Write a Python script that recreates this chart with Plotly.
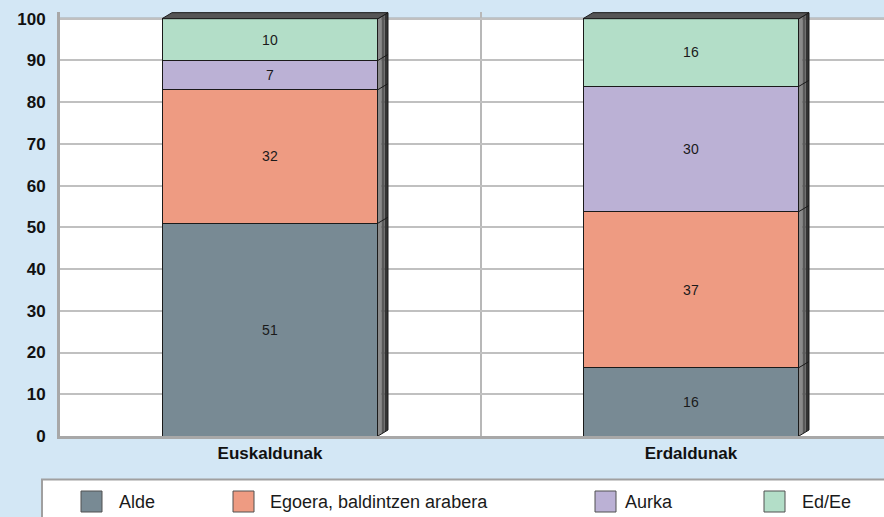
import plotly.graph_objects as go

# data
categories = ['Euskaldunak', 'Erdaldunak']
series_names = ['Alde', 'Egoera, baldintzen arabera', 'Aurka', 'Ed/Ee']
alde = [51, 16.4]
egoera = [32, 37.4]
aurka = [7, 30.0]
ed_ee = [10, 16.2]
colors = ['#788a94', '#ee9b82', '#bbb1d5', '#b3dec8']
y_ticks = [0, 10, 20, 30, 40, 50, 60, 70, 80, 90, 100]

series_values = [alde, egoera, aurka, ed_ee]
x_pos = list(range(len(categories)))

BG = '#d3e7f5'
FONT = 'Arial, Liberation Sans, sans-serif'

# plot area in pixels
L, T, W, H = 60, 12, 824, 424
BAR_W = 0.513
DX = 0.02375   # depth of the 3d effect, x units
DY = 1.44      # depth of the 3d effect, y units
Y_MAX = 101.6


def paper_x(px):
    return (px - L) / W


def paper_y(py):
    return (T + H - py) / H


fig = go.Figure()

for name, vals, col in zip(series_names, series_values, colors):
    fig.add_trace(go.Bar(
        x=x_pos, y=vals, name=name, width=BAR_W,
        marker=dict(color=col, line=dict(color='#1a1a1a', width=1)),
        texttemplate='%{y:.0f}', textposition='inside',
        insidetextanchor='middle', textangle=0,
        textfont=dict(family=FONT, size=14, color='#1a1a1a'),
        showlegend=False, hoverinfo='skip',
    ))

# 3d side and top faces, derived from the stacked totals
strip_cols = ['#8a8a8a', '#595959', '#333333']
for i, c in enumerate(x_pos):
    totals = []
    acc = 0
    for vals in series_values:
        acc += vals[i]
        totals.append(acc)
    top = totals[-1]
    xl = c - BAR_W / 2
    xr = c + BAR_W / 2
    n = len(strip_cols)
    for k, sc in enumerate(strip_cols):
        xa = xr + DX * k / n
        xb = xr + DX * (k + 1) / n
        ya = DY * k / n
        yb = DY * (k + 1) / n
        fig.add_trace(go.Scatter(
            x=[xa, xb, xb, xa, xa], y=[ya, yb, top + yb, top + ya, ya],
            mode='lines', fill='toself', fillcolor=sc,
            line=dict(width=0), showlegend=False, hoverinfo='skip'))
    # outline of the side face and the segment edges
    fig.add_trace(go.Scatter(
        x=[xr, xr + DX, xr + DX, xr], y=[0, DY, top + DY, top],
        mode='lines', line=dict(color='#1a1a1a', width=1),
        showlegend=False, hoverinfo='skip'))
    for t in totals[:-1]:
        fig.add_trace(go.Scatter(
            x=[xr, xr + DX], y=[t, t + DY], mode='lines',
            line=dict(color='#1a1a1a', width=1),
            showlegend=False, hoverinfo='skip'))
    # top face
    fig.add_trace(go.Scatter(
        x=[xl, xr, xr + DX, xl + DX, xl], y=[top, top, top + DY, top + DY, top],
        mode='lines', fill='toself', fillcolor='#555555',
        line=dict(color='#1a1a1a', width=1),
        showlegend=False, hoverinfo='skip'))

shapes = [
    # blue band above the 100 line
    dict(type='rect', xref='paper', yref='y', x0=0, x1=1, y0=100, y1=Y_MAX,
         fillcolor=BG, line=dict(width=0), layer='between'),
    dict(type='line', xref='paper', yref='y', x0=0, x1=1, y0=100, y1=100,
         line=dict(color='#a8a8a8', width=2.5), layer='between'),
    # legend box
    dict(type='rect', xref='paper', yref='paper',
         x0=paper_x(42), x1=paper_x(900), y0=paper_y(479.5), y1=paper_y(540),
         fillcolor='white', line=dict(color='#a0a0a0', width=2)),
]

annotations = []
legend_sq_x = [81, 233, 595, 764]
legend_txt_x = [117, 268, 623, 800]
for name, col, sx, tx in zip(series_names, colors, legend_sq_x, legend_txt_x):
    shapes.append(dict(type='rect', xref='paper', yref='paper',
                       x0=paper_x(sx), x1=paper_x(sx + 21),
                       y0=paper_y(491), y1=paper_y(512),
                       fillcolor=col, line=dict(color='#505050', width=1)))
    annotations.append(dict(xref='paper', yref='paper', x=paper_x(tx), y=paper_y(501.5),
                            text=name, showarrow=False, xanchor='left', yanchor='middle',
                            font=dict(family=FONT, size=18, color='#1a1a1a')))

fig.update_layout(
    width=884, height=517,
    margin=dict(l=L, r=884 - L - W, t=T, b=517 - T - H, pad=0),
    paper_bgcolor=BG, plot_bgcolor='white',
    barmode='stack',
    font=dict(family=FONT, color='#111111'),
    shapes=shapes, annotations=annotations,
    xaxis=dict(
        range=[-210 / 421, -210 / 421 + W / 421],
        tickvals=x_pos, ticktext=['<b>%s</b>' % c for c in categories],
        tickfont=dict(family=FONT, size=17, color='#111111'),
        showgrid=False, zeroline=False, ticks='', ticklabelstandoff=0,
        minor=dict(tick0=0.5, dtick=1, showgrid=True, gridcolor='#b8b8b8', gridwidth=2),
        showline=True, linecolor='#a8a8a8', linewidth=3,
    ),
    yaxis=dict(
        range=[0, Y_MAX], tickvals=y_ticks,
        ticktext=['<b>%d</b>' % v for v in y_ticks],
        tickfont=dict(family=FONT, size=17, color='#111111'),
        showgrid=True, gridcolor='#c0c0c0', gridwidth=1.5, zeroline=False,
        ticks='', ticklabelstandoff=8,
        showline=True, linecolor='#a8a8a8', linewidth=3,
    ),
)

# drop the default page margin so the figure sits at the window's corner
fig.write_html('out.html', config={'displayModeBar': False},
               post_script="document.body.style.margin='0';")
